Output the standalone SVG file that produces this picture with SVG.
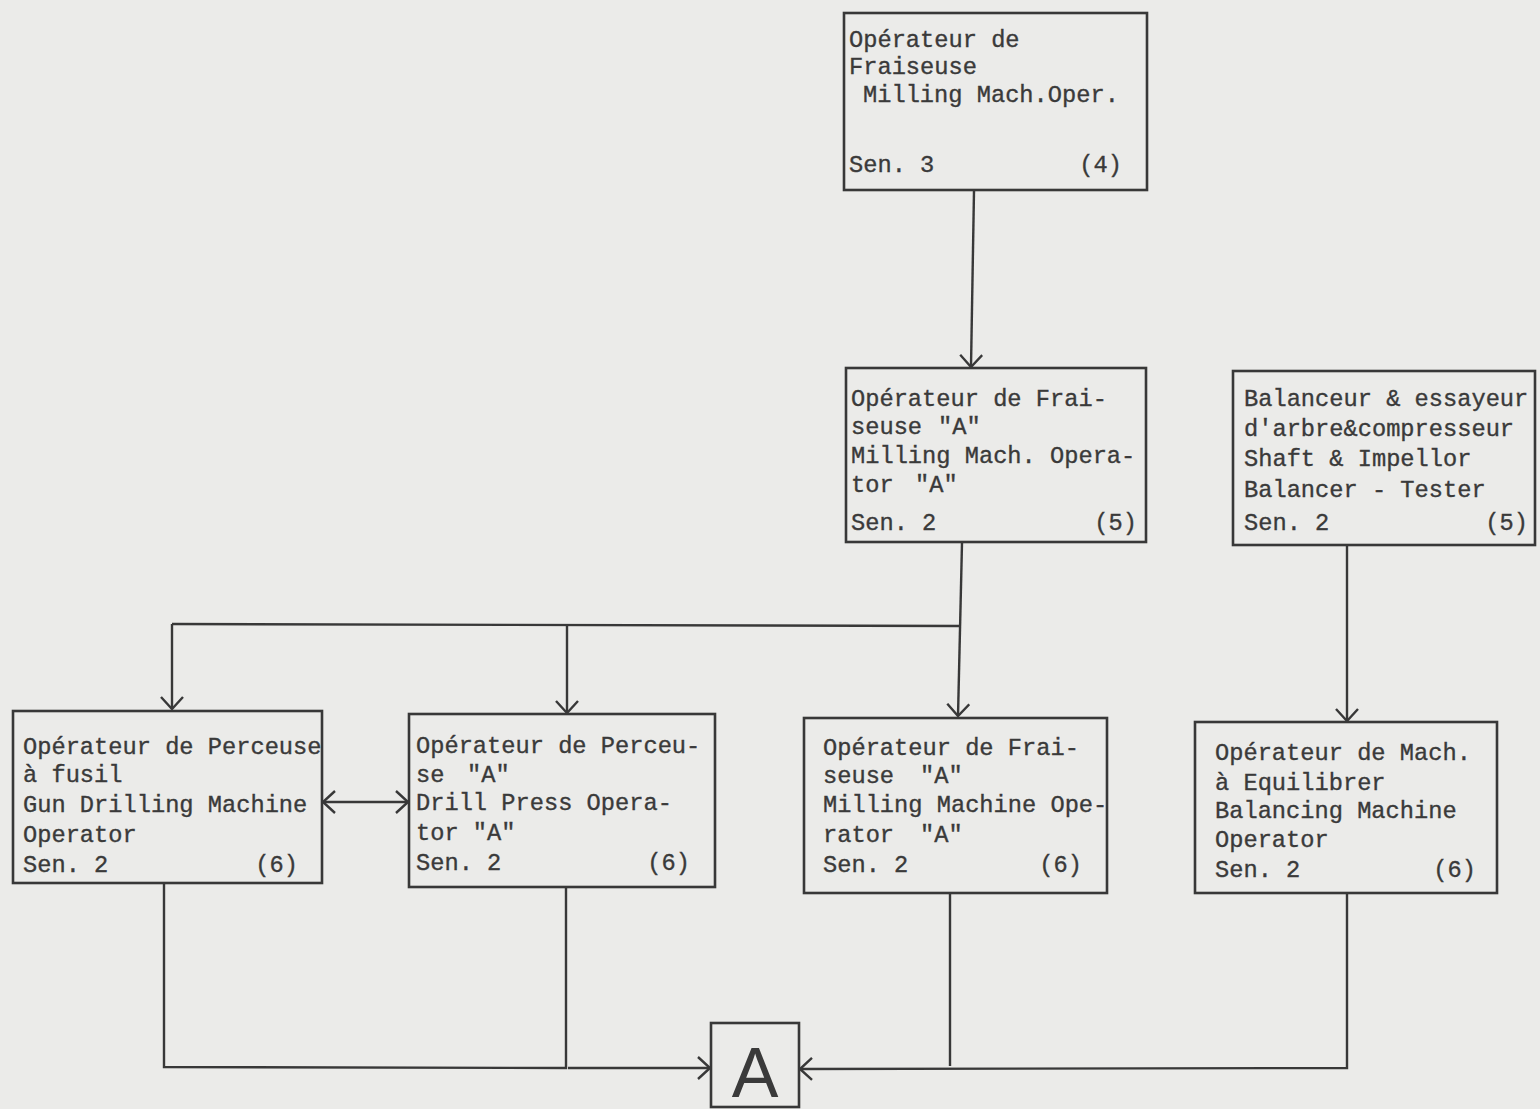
<svg xmlns="http://www.w3.org/2000/svg" width="1540" height="1109" viewBox="0 0 1540 1109">
<style>
.bx{fill:none;stroke:#383838;stroke-width:2.6}
.t{font-family:"Liberation Mono","Courier New",monospace;font-size:23.7px;fill:#3a3a3a;stroke:#3a3a3a;stroke-width:0.35}
.e{text-anchor:end}
.c{fill:none;stroke:#383838;stroke-width:2.4}
</style>
<defs>
<marker id="arr" viewBox="0 0 14 24" refX="13" refY="12" markerWidth="14" markerHeight="24" orient="auto-start-reverse" markerUnits="userSpaceOnUse">
<path d="M1,1 L13,12 L1,23" fill="none" stroke="#383838" stroke-width="2.4"/>
</marker>
</defs>
<rect width="1540" height="1109" fill="#ebebe9"/>

<g id="connectors">
<path class="c" d="M974,191 L971,367" marker-end="url(#arr)"/>
<path class="c" d="M962,543 L958,716" marker-end="url(#arr)"/>
<path class="c" d="M960,626 L172,624"/>
<path class="c" d="M172,624 L172,709" marker-end="url(#arr)"/>
<path class="c" d="M567,625 L567,713" marker-end="url(#arr)"/>
<path class="c" d="M1347,546 L1347,721" marker-end="url(#arr)"/>
<path class="c" d="M323,802 L408,802" marker-start="url(#arr)" marker-end="url(#arr)"/>
<path class="c" d="M164,884 L164,1067 L566,1068 L566,888"/>
<path class="c" d="M568,1068 L710,1068" marker-end="url(#arr)"/>
<path class="c" d="M1347,894 L1347,1068 L800,1069" marker-end="url(#arr)"/>
<path class="c" d="M950,894 L950,1066"/>
</g>

<g id="n0">
<rect class="bx" x="844" y="13" width="303" height="177"/>
<text class="t" x="849" y="47">Opérateur de</text>
<text class="t" x="849" y="74">Fraiseuse</text>
<text class="t" x="863" y="102">Milling Mach.Oper.</text>
<text class="t" x="849" y="172">Sen. 3</text>
<text class="t e" x="1122" y="172">(4)</text>
</g>

<g id="n1">
<rect class="bx" x="846" y="368" width="300" height="174"/>
<text class="t" x="851" y="406">Opérateur de Frai-</text>
<text class="t" x="851" y="434">seuse <tspan x="938">"A"</tspan></text>
<text class="t" x="851" y="463">Milling Mach. Opera-</text>
<text class="t" x="851" y="492">tor <tspan x="915">"A"</tspan></text>
<text class="t" x="851" y="530">Sen. 2</text>
<text class="t e" x="1137" y="530">(5)</text>
</g>

<g id="n2">
<rect class="bx" x="1233" y="371" width="302" height="174"/>
<text class="t" x="1244" y="406">Balanceur &amp; essayeur</text>
<text class="t" x="1244" y="436">d'arbre&amp;compresseur</text>
<text class="t" x="1244" y="466">Shaft &amp; Impellor</text>
<text class="t" x="1244" y="497">Balancer - Tester</text>
<text class="t" x="1244" y="530">Sen. 2</text>
<text class="t e" x="1528" y="530">(5)</text>
</g>

<g id="n3">
<rect class="bx" x="13" y="711" width="309" height="172"/>
<text class="t" x="23" y="754">Opérateur de Perceuse</text>
<text class="t" x="23" y="782">à fusil</text>
<text class="t" x="23" y="812">Gun Drilling Machine</text>
<text class="t" x="23" y="842">Operator</text>
<text class="t" x="23" y="872">Sen. 2</text>
<text class="t e" x="298" y="872">(6)</text>
</g>

<g id="n4">
<rect class="bx" x="409" y="714" width="306" height="173"/>
<text class="t" x="416" y="753">Opérateur de Perceu-</text>
<text class="t" x="416" y="782">se <tspan x="467">"A"</tspan></text>
<text class="t" x="416" y="810">Drill Press Opera-</text>
<text class="t" x="416" y="840">tor "A"</text>
<text class="t" x="416" y="870">Sen. 2</text>
<text class="t e" x="690" y="870">(6)</text>
</g>

<g id="n5">
<rect class="bx" x="804" y="718" width="303" height="175"/>
<text class="t" x="823" y="755">Opérateur de Frai-</text>
<text class="t" x="823" y="783">seuse <tspan x="920">"A"</tspan></text>
<text class="t" x="823" y="812">Milling Machine Ope-</text>
<text class="t" x="823" y="842">rator <tspan x="920">"A"</tspan></text>
<text class="t" x="823" y="872">Sen. 2</text>
<text class="t e" x="1082" y="872">(6)</text>
</g>

<g id="n6">
<rect class="bx" x="1195" y="722" width="302" height="171"/>
<text class="t" x="1215" y="760">Opérateur de Mach.</text>
<text class="t" x="1215" y="790">à Equilibrer</text>
<text class="t" x="1215" y="818">Balancing Machine</text>
<text class="t" x="1215" y="847">Operator</text>
<text class="t" x="1215" y="877">Sen. 2</text>
<text class="t e" x="1476" y="877">(6)</text>
</g>

<g id="nA">
<rect class="bx" x="711" y="1023" width="88" height="84"/>
<text x="755" y="1097" text-anchor="middle" font-family="'Liberation Sans',Arial,sans-serif" font-size="70" fill="#3a3a3a">A</text>
</g>
</svg>
